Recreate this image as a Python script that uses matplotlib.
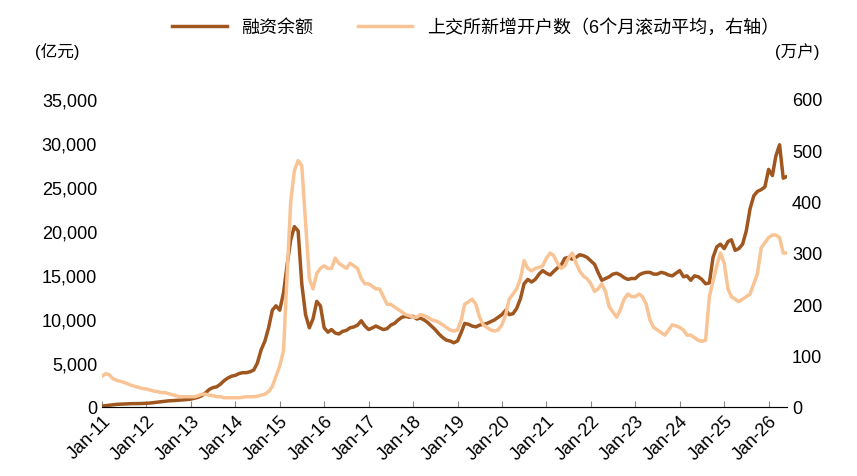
import matplotlib
matplotlib.use("Agg")
import matplotlib.pyplot as plt
import pandas as pd

plt.rcParams['font.family'] = ['Liberation Sans', 'Noto Sans CJK SC', 'DejaVu Sans']

margin = [100,150,200,250,300,320,350,370,380,380,390,400,
 420,450,500,550,600,650,700,720,750,780,800,850,
 900,1000,1100,1300,1600,2000,2200,2300,2600,3000,3300,3500,
 3600,3800,3900,3900,4000,4200,5000,6500,7500,9000,11000,11500,
 11000,13000,16000,19000,20500,20000,14000,10500,9000,10000,12000,11500,
 9000,8500,8800,8400,8300,8600,8700,9000,9100,9300,9800,9200,
 8800,9000,9200,9000,8800,8900,9300,9500,9900,10200,10300,10200,
 10300,10000,10100,9900,9600,9200,8800,8300,7900,7600,7500,7300,
 7500,8500,9500,9400,9200,9100,9300,9400,9500,9700,9900,10200,
 10500,11000,10500,10600,11200,12300,14000,14500,14200,14500,15100,15500,
 15200,15000,15400,15800,16100,16900,17000,16800,17000,17300,17200,17000,
 16600,16200,15300,14400,14600,14800,15100,15200,15000,14700,14500,14600,
 14600,15000,15200,15300,15300,15100,15100,15300,15200,15000,14900,15200,
 15500,14800,14900,14400,14900,14800,14500,14000,14100,17000,18200,18500,
 18000,18800,19000,17800,18000,18500,20000,22500,24000,24500,24700,25000,
 27000,26300,28500,29800,26000,26200]

accounts = [60,65,63,55,52,50,48,45,42,40,38,36,
 35,33,31,30,28,28,26,24,22,20,20,20,
 20,20,22,25,25,23,22,20,20,18,18,18,
 18,18,19,20,20,20,21,23,25,30,40,60,
 80,110,250,400,460,480,470,360,250,230,260,270,
 275,270,270,290,280,275,270,280,275,270,250,240,
 240,235,230,230,215,200,200,195,190,185,180,178,
 175,175,180,178,175,170,168,165,160,155,150,148,
 150,170,200,205,210,200,175,160,155,150,148,150,
 160,180,210,220,230,250,285,270,265,270,272,275,
 290,300,295,280,270,275,290,300,280,265,255,250,
 240,225,230,240,225,195,185,175,190,210,220,215,
 215,220,215,200,170,155,150,145,140,150,160,158,
 155,150,140,140,135,130,128,130,215,245,275,300,
 280,230,215,210,205,210,215,220,240,260,310,320,
 330,335,335,330,300,300]

dates = pd.date_range("2011-01-01", periods=len(margin), freq="MS")
tick_years = list(range(2011, 2027))

fig = plt.figure(figsize=(8.57, 4.77), dpi=100)
ax = fig.add_axes([102/857, 1-408/477, (787-102)/857, (408-100)/477])
ax2 = ax.twinx()
l1, = ax.plot(dates, margin, color='#A0561F', lw=2.5, label='融资余额')
l2, = ax2.plot(dates, accounts, color='#F8C495', lw=2.5, label='上交所新增开户数（6个月滚动平均，右轴）')
ax.set_ylim(0, 35000); ax2.set_ylim(0, 600)
ax.set_yticks(range(0, 35001, 5000))
ax.set_yticklabels([f"{v:,}" for v in range(0, 35001, 5000)], fontsize=13)
ax2.set_yticks(range(0, 601, 100))
ax2.set_yticklabels([str(v) for v in range(0, 601, 100)], fontsize=13)
ax.set_xlim(dates[0], dates[-1])
ax.set_xticks([pd.Timestamp(f"{y}-01-01") for y in tick_years])
ax.set_xticklabels([f"Jan-{y%100:02d}" for y in tick_years], rotation=45, ha='right', rotation_mode='anchor', fontsize=13)
for a in (ax, ax2):
    a.spines['top'].set_visible(False)
    a.spines['left'].set_visible(False)
    a.spines['right'].set_visible(False)
    a.tick_params(length=0)
ax.tick_params(axis='x', length=4, direction='in', color='#888888')
ax.spines['bottom'].set_color('#888888')
fig.text(35/857, 1-52/477, '(亿元)', fontsize=12, va='center')
fig.text(775/857, 1-52/477, '(万户)', fontsize=12, va='center')
fig.legend(handles=[l1, l2], loc='center', bbox_to_anchor=(0.555, 1-28/477), ncol=2, frameon=False, fontsize=13, handlelength=3, columnspacing=2.5)
fig.savefig("out.png", dpi=100)
